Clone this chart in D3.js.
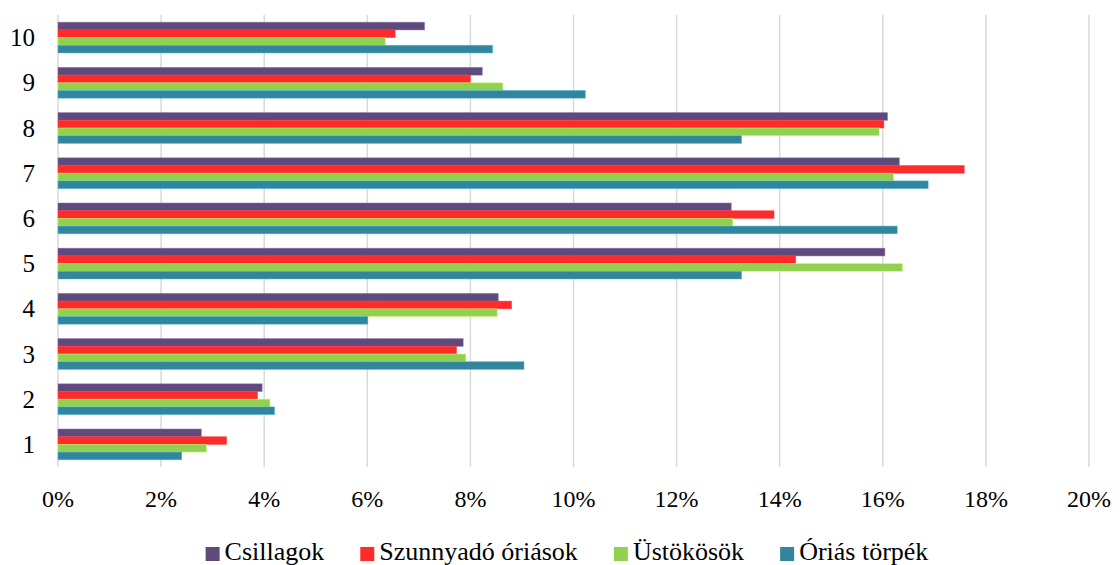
<!DOCTYPE html>
<html>
<head>
<meta charset="utf-8">
<script src="https://cdn.jsdelivr.net/npm/d3@7"></script>
<style>
  html, body { margin: 0; padding: 0; background: #fff; }
  svg text { font-family: "Liberation Serif", "Times New Roman", Times, "DejaVu Serif", serif; }
</style>
</head>
<body>
<svg id="chart" width="1120" height="565"></svg>
<script>
// Categories (1 at the bottom, 10 at the top)
const categories = ["1", "2", "3", "4", "5", "6", "7", "8", "9", "10"];

// Series names, drawn top-to-bottom inside each category group
const seriesNames = ["Csillagok", "Szunnyadó óriások", "Üstökösök", "Óriás törpék"];
const seriesColors = ["#604A7B", "#FF2A2A", "#92D050", "#31859C"];

// Share values (%) per category, in category order 1..10
const csillagok        = [2.78, 3.96, 7.86, 8.54, 16.04, 13.06, 16.32, 16.09, 8.23, 7.11];
const szunnyadoOriasok = [3.27, 3.87, 7.73, 8.80, 14.31, 13.89, 17.58, 16.02, 8.00, 6.54];
const ustokosok        = [2.88, 4.11, 7.91, 8.52, 16.38, 13.09, 16.21, 15.93, 8.63, 6.35];
const oriasTorpek      = [2.40, 4.20, 9.04, 6.01, 13.26, 16.28, 16.88, 13.26, 10.23, 8.43];

// Axis tick values (%)
const xTicks = [0, 2, 4, 6, 8, 10, 12, 14, 16, 18, 20];

const seriesValues = [csillagok, szunnyadoOriasok, ustokosok, oriasTorpek];
const FONT = "'Liberation Serif', 'Times New Roman', Times, 'DejaVu Serif', serif";

const svg = d3.select("#chart");
const plot = { left: 58, right: 1089, top: 15, bottom: 467 };

const x = d3.scaleLinear().domain([0, 20]).range([plot.left, plot.right]);
const y = d3.scaleBand()
  .domain(categories.slice().reverse())
  .range([plot.top, plot.bottom])
  .paddingInner(0.32)
  .paddingOuter(0.16);
const ySub = d3.scaleBand().domain(seriesNames).range([0, y.bandwidth()]);
const color = d3.scaleOrdinal().domain(seriesNames).range(seriesColors);

// Vertical gridlines
svg.append("g")
  .selectAll("line")
  .data(xTicks)
  .join("line")
  .attr("x1", d => x(d)).attr("x2", d => x(d))
  .attr("y1", plot.top).attr("y2", plot.bottom)
  .attr("stroke", "#d9d9d9")
  .attr("stroke-width", 1.5);

// Bars
const rows = [];
categories.forEach((c, i) => {
  seriesNames.forEach((s, j) => rows.push({ cat: c, series: s, value: seriesValues[j][i] }));
});

svg.append("g")
  .selectAll("rect")
  .data(rows)
  .join("rect")
  .attr("x", x(0))
  .attr("y", d => y(d.cat) + ySub(d.series))
  .attr("width", d => x(d.value) - x(0))
  .attr("height", ySub.bandwidth())
  .attr("fill", d => color(d.series))
  .attr("stroke", d => d3.color(color(d.series)).brighter(0.9))
  .attr("stroke-width", 0.8)
  .attr("stroke-opacity", 0.6);

// Category labels
svg.append("g")
  .selectAll("text")
  .data(categories)
  .join("text")
  .attr("x", 35)
  .attr("y", d => y(d) + y.bandwidth() / 2 + 8.5)
  .attr("text-anchor", "end")
  .attr("font-family", FONT)
  .attr("font-size", 25)
  .attr("fill", "#000")
  .text(d => d);

// Percentage tick labels
svg.append("g")
  .selectAll("text")
  .data(xTicks)
  .join("text")
  .attr("x", d => x(d))
  .attr("y", 507)
  .attr("text-anchor", "middle")
  .attr("font-family", FONT)
  .attr("font-size", 24)
  .attr("fill", "#000")
  .text(d => d + "%");

// Legend
const legend = svg.append("g");
const sq = 14, gapText = 5, gapItem = 36;
let cx = 0;
seriesNames.forEach(s => {
  const g = legend.append("g").attr("transform", `translate(${cx},0)`);
  g.append("rect").attr("x", 0).attr("y", 547).attr("width", sq).attr("height", sq)
    .attr("fill", color(s));
  const t = g.append("text").attr("x", sq + gapText).attr("y", 560)
    .attr("font-family", FONT)
    .attr("font-size", 26).attr("fill", "#000").text(s);
  const w = t.node().getComputedTextLength();
  cx += sq + gapText + w + gapItem;
});
const total = cx - gapItem;
legend.attr("transform", `translate(${567 - total / 2},0)`);
</script>
</body>
</html>
